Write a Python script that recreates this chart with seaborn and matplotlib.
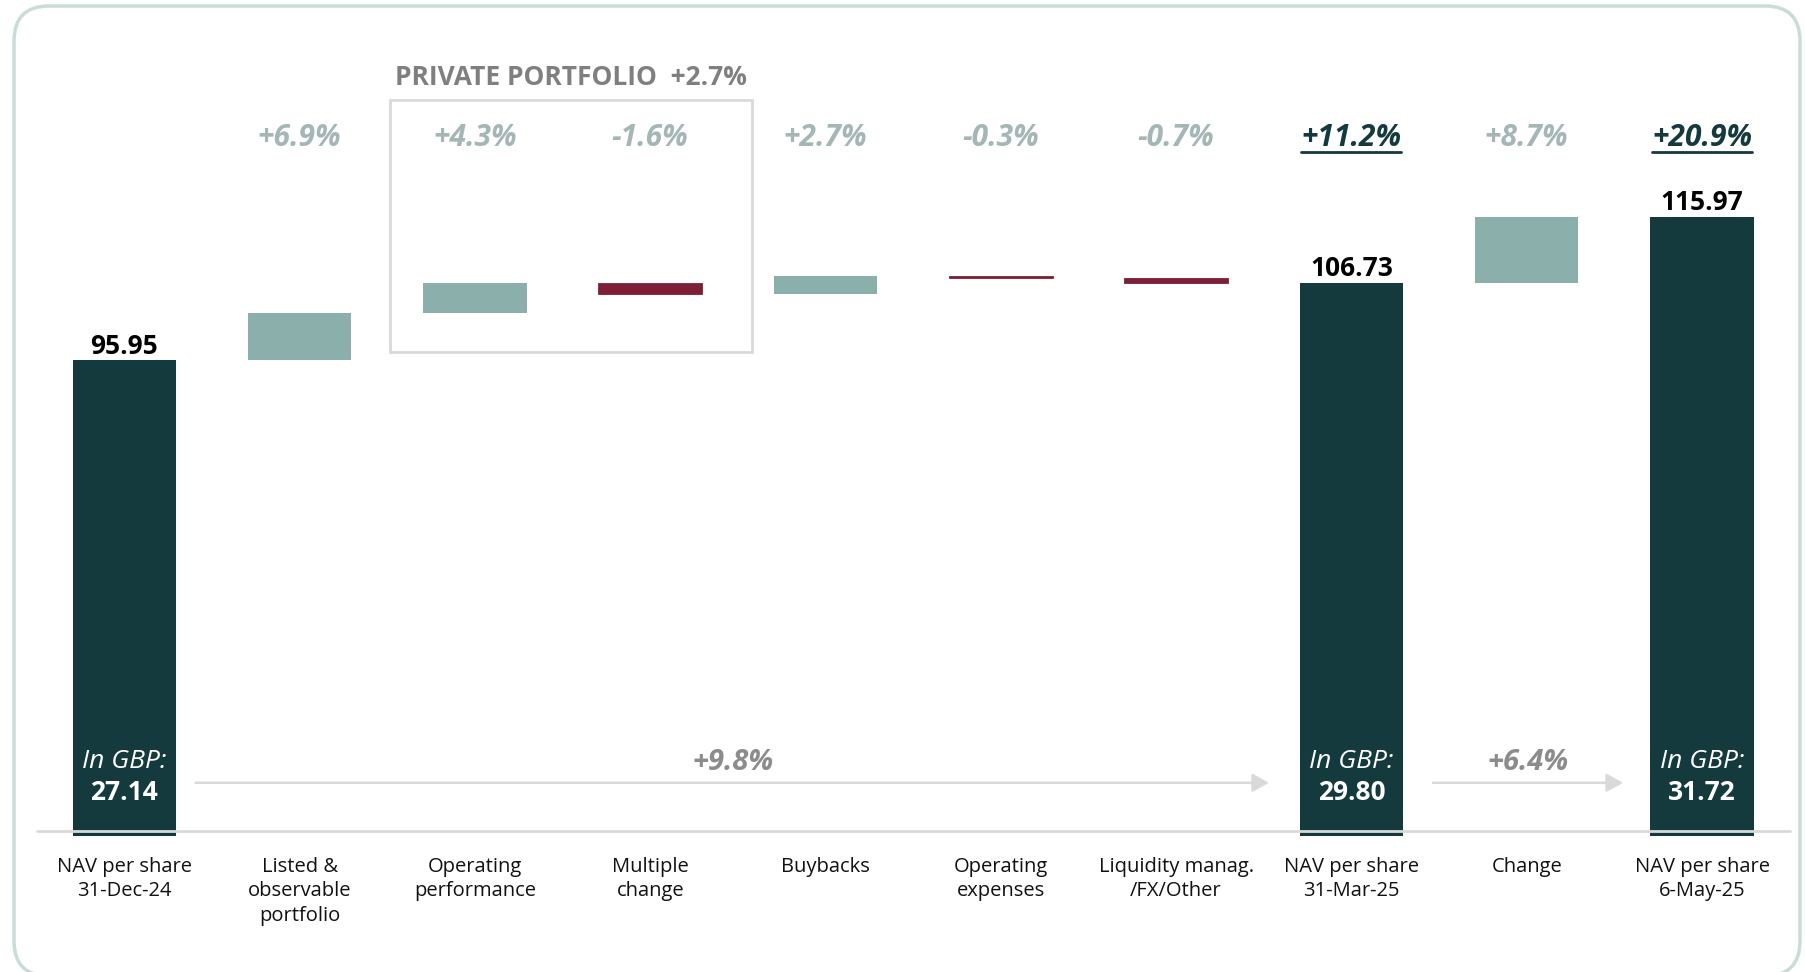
import matplotlib
matplotlib.use('Agg')
import numpy as np
import pandas as pd
import matplotlib.pyplot as plt
import seaborn as sns
from matplotlib.patches import FancyBboxPatch, Rectangle
from matplotlib.lines import Line2D
from matplotlib.transforms import IdentityTransform

sns.set_style('white')
plt.rcParams['font.family'] = ['Open Sans', 'DejaVu Sans']

# data
categories = ['NAV per share\n31-Dec-24', 'Listed &\nobservable\nportfolio', 'Operating\nperformance',
              'Multiple\nchange', 'Buybacks', 'Operating\nexpenses', 'Liquidity manag.\n/FX/Other',
              'NAV per share\n31-Mar-25', 'Change', 'NAV per share\n6-May-25']
steps = [95.95, 6.62, 4.13, -1.54, 2.59, -0.29, -0.73, 106.73, 9.24, 115.97]
is_total = [True, False, False, False, False, False, False, True, False, True]
pct_labels = ['', '+6.9%', '+4.3%', '-1.6%', '+2.7%', '-0.3%', '-0.7%', '+11.2%', '+8.7%', '+20.9%']
gbp_labels = ['27.14', '', '', '', '', '', '', '29.80', '', '31.72']
arrow_labels = ['+9.8%', '+6.4%']

DARK = '#143a3e'
LIGHT = '#8bafab'
RED = '#7e1f38'
PCT_GREY = '#a5b6b6'
BASE = 29.5

# waterfall geometry
bottoms, heights, colors, tops = [], [], [], []
running = 0
for v, tot in zip(steps, is_total):
    if tot:
        running = v
        bottoms.append(BASE)
        heights.append(v - BASE)
        colors.append(DARK)
    else:
        start = running
        running = running + v
        bottoms.append(min(start, running))
        heights.append(abs(v))
        colors.append(LIGHT if v >= 0 else RED)
    tops.append(bottoms[-1] + heights[-1])

df = pd.DataFrame({'cat': categories, 'height': heights, 'bottom': bottoms, 'color': colors})

fig = plt.figure(figsize=(18.05, 9.72), dpi=100)
ax = fig.add_axes([0.0203, 0.1402, 0.9712, 0.8392])

for c in [DARK, LIGHT, RED]:
    sub = df[df['color'] == c]
    sns.barplot(data=sub, x='cat', y='height', order=categories, color=c,
                bottom=sub['bottom'].values, width=0.59, saturation=1, ax=ax, zorder=2,
                edgecolor=c, linewidth=0.6 if c == RED else 0)

ax.set_xlim(-0.5, 9.5)
ax.set_ylim(BASE, 143.5)
ax.set_yticks([])
ax.set_xlabel('')
ax.set_ylabel('')
for s in ax.spines.values():
    s.set_visible(False)
ax.tick_params(axis='x', length=0, pad=15, labelsize=14.5)
for lab in ax.get_xticklabels():
    lab.set_linespacing(1.3)
    lab.set_color('#111111')

# baseline
ax.plot([-0.5, 9.5], [30.1, 30.1], color='#d9d9d9', lw=2, zorder=3, clip_on=False)

# percent labels
for i, lab in enumerate(pct_labels):
    if not lab:
        continue
    col = DARK if is_total[i] else PCT_GREY
    ax.text(i, 127.0, lab, ha='center', va='center', fontsize=21.5, fontweight='bold',
            fontstyle='italic', color=col, zorder=5)

# value labels on totals
for i, tot in enumerate(is_total):
    if tot:
        ax.text(i, tops[i] + 0.1, f'{steps[i]:.2f}', ha='center', va='bottom', fontsize=19,
                fontweight='bold', color='black')
        ax.text(i, 39.9, 'In GBP:', ha='center', va='center', fontsize=19,
                fontstyle='italic', color='white', zorder=5)
        ax.text(i, 35.5, gbp_labels[i], ha='center', va='center', fontsize=19,
                fontweight='bold', color='white', zorder=5)

# private portfolio box
ax.add_patch(Rectangle((1.517, 97.1), 2.061, 35.2, fill=False, edgecolor='#d9d9d9',
                       lw=2, zorder=1, clip_on=False))
ax.text(2.55, 135.4, 'PRIVATE PORTFOLIO  +2.7%', ha='center', va='center', fontsize=19,
        fontweight='bold', color='#7f7f7f')

# arrows
for (x0, x1, xt), lab in zip([(0.407, 6.53, 3.47), (7.465, 8.55, 8.01)], arrow_labels):
    ax.annotate('', xy=(x1, 36.9), xytext=(x0, 36.9),
                arrowprops=dict(arrowstyle='-|>,head_length=1.0,head_width=0.55',
                                color='#d9d9d9', lw=1.8, shrinkA=0, shrinkB=0))
    ax.text(xt, 39.7, lab, ha='center', va='center', fontsize=21, fontweight='bold',
            fontstyle='italic', color='#8c8c8c')

# underline the total percentages
fig.canvas.draw()
renderer = fig.canvas.get_renderer()
for t in ax.texts:
    if t.get_text() in ('+11.2%', '+20.9%'):
        bb = t.get_window_extent(renderer)
        y = bb.y0 + 1
        fig.add_artist(Line2D([bb.x0, bb.x1], [y, y], color=DARK, lw=2,
                              transform=IdentityTransform()))

# outer rounded frame
fig.add_artist(FancyBboxPatch((14, -4), 1786, 970, boxstyle='round,pad=0,rounding_size=35',
                              fill=False, edgecolor='#c9dcd9', lw=2.5, transform=IdentityTransform()))

fig.savefig('out.png', dpi=100)
